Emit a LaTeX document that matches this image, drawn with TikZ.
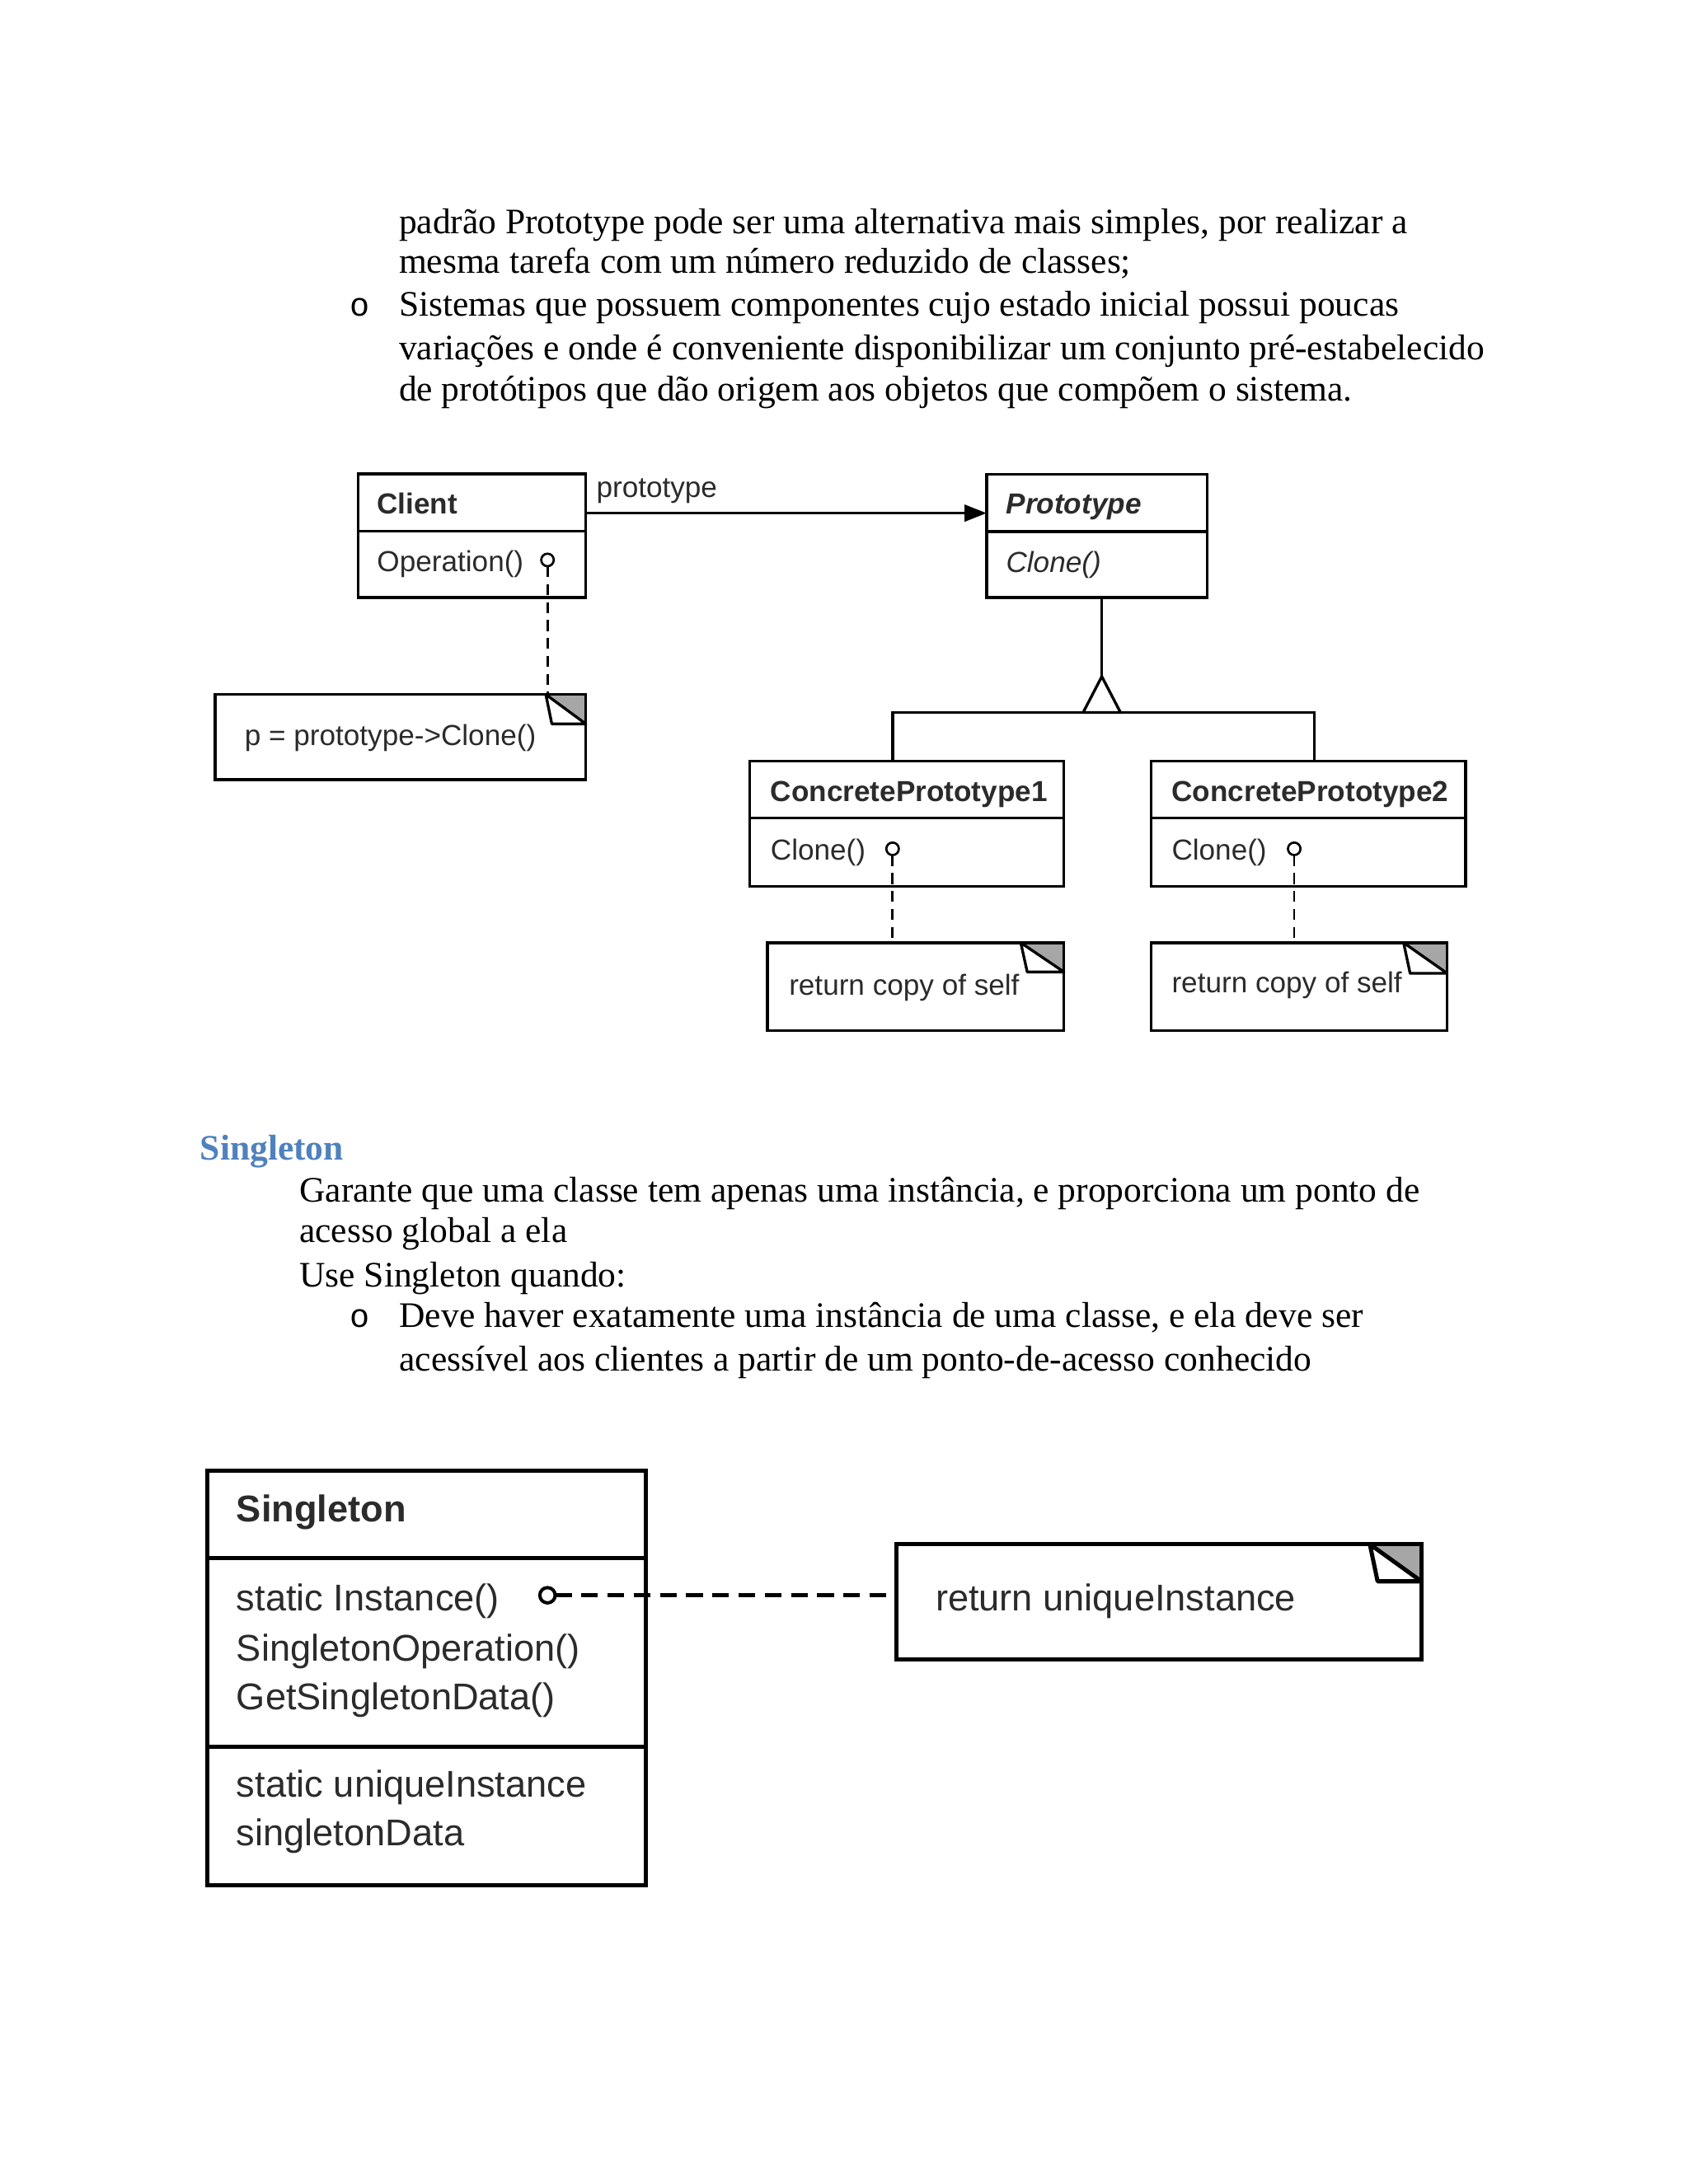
\documentclass[tikz,border=0pt]{standalone}
\usepackage{fontspec}
\setmainfont{Liberation Serif}
\newfontfamily\diafont{Liberation Sans}
\newfontfamily\bulfont{Liberation Mono}
\usetikzlibrary{arrows.meta,calc}
\definecolor{headblue}{HTML}{4F81BD}
\definecolor{diatext}{HTML}{2B2B2B}
\definecolor{foldgray}{HTML}{A6A6A6}
\tikzset{
 body/.style={anchor=base west, inner sep=0pt, font=\fontsize{13}{15}\selectfont},
 bulletmark/.style={anchor=base west, inner sep=0pt, font=\bulfont\fontsize{12}{14}\selectfont},
 headtxt/.style={anchor=base west, inner sep=0pt, font=\bfseries\fontsize{13}{15}\selectfont, text=headblue},
 cls/.style 2 args={draw, line width=1pt, inner sep=0pt, outer sep=0pt, anchor=north west, minimum width=#1*0.505pt, minimum height=#2*0.505pt},
 clsbig/.style 2 args={draw, line width=1.5pt, inner sep=0pt, outer sep=0pt, anchor=north west, minimum width=#1*0.505pt, minimum height=#2*0.505pt},
 lblone/.style={anchor=base west, inner sep=0pt, text=diatext, font=\diafont\fontsize{10.5}{12}\selectfont},
 lbltwo/.style={anchor=base west, inner sep=0pt, text=diatext, font=\diafont\fontsize{13.5}{15}\selectfont},
 lollyone/.style={circle, draw, fill=white, inner sep=0pt, outer sep=0pt, minimum size=9*0.505pt, line width=0.8pt},
 lollytwo/.style={circle, draw, fill=white, inner sep=0pt, outer sep=0pt, minimum size=11*0.505pt, line width=1.2pt},
 lineone/.style={line width=1pt},
 linetwo/.style={line width=1.5pt},
 dashone/.style={line width=0.8pt, dash pattern=on 4pt off 2.5pt},
 dashtwo/.style={line width=1.5pt, dash pattern=on 6pt off 3.5pt},
 assoc/.style={line width=1pt, -{Triangle[length=8pt,width=6pt]}},
}
\newcommand\foldcorner[4][1pt]{%
 \fill[foldgray] ($(#2.north east)+(-#3,0)$) -- (#2.north east) -- ($(#2.north east)+(0,#4)$) -- cycle;
 \draw[line width=#1, fill=white, line join=round] ($(#2.north east)+(-#3,0)$) -- ($(#2.north east)+({-0.85*#3},#4)$) -- ($(#2.north east)+(0,#4)$) -- cycle;
 \draw[line width=#1] (#2.north west) -- (#2.north east) -- (#2.south east);
}
\begin{document}
\begin{tikzpicture}[x=0.505pt,y=-0.505pt]
\useasboundingbox (0,0) rectangle (1212,1568);
\fill[white] (0,0) rectangle (1212,1568);

% ---------- top text ----------
\node[body] (t1) at (286,167.7) {padrão Prototype pode ser uma alternativa mais simples, por realizar a};
\node[body] (t2) at (286,196.1) {mesma tarefa com um número reduzido de classes;};
\node[bulletmark] (b1) at (250.5,227.1) {o};
\node[body] (t3) at (286,227.1) {Sistemas que possuem componentes cujo estado inicial possui poucas};
\node[body] (t4) at (286,258.1) {variações e onde é conveniente disponibilizar um conjunto pré-estabelecido};
\node[body] (t5) at (286,288.1) {de protótipos que dão origem aos objetos que compõem o sistema.};

% ---------- Prototype diagram ----------
% Client
\node[cls={163.4}{88.8}] (client) at (257.1,340.2) {};
\draw[lineone] (client.west |- 0,381.2) -- (client.east |- 0,381.2);
\node[lblone, font=\diafont\bfseries\fontsize{10.5}{12}\selectfont] (clientname) at (270.3,369.2) {Client};
\node[lblone] (clientop) at (270.3,410.6) {Operation()};
\node[lollyone] (lc) at (393,402) {};

% note client
\node[cls={266}{61.1}] (note0) at (154.5,498.6) {};
\foldcorner{note0}{28.7}{21.1}
\node[lblone] (note0t) at (175.2,535.4) {p = prototype->Clone()};
\draw[dashone] (lc.south) -- (lc |- note0.north);

% Prototype
\node[cls={158.2}{88.5}] (proto) at (708.2,340.4) {};
\draw[lineone] (proto.west |- 0,381.6) -- (proto.east |- 0,381.6);
\node[lblone, font=\diafont\bfseries\itshape\fontsize{10.5}{12}\selectfont] (protoname) at (721.8,368.9) {Prototype};
\node[lblone, font=\diafont\itshape\fontsize{10.5}{12}\selectfont] (protoop) at (721.8,411) {Clone()};

% association
\node[lblone] (plabel) at (427.7,357) {prototype};
\coordinate (ay) at (0,368.4);
\draw[assoc] (client.east |- ay) -- (proto.west |- ay);

% ConcretePrototype1
\node[cls={225.7}{90.2}] (cp1) at (538,546.3) {};
\draw[lineone] (cp1.west |- 0,587.1) -- (cp1.east |- 0,587.1);
\node[lblone, font=\diafont\bfseries\fontsize{10.5}{12}\selectfont] (cp1name) at (552.8,575.4) {ConcretePrototype1};
\node[lblone] (cp1op) at (552.8,617.5) {Clone()};
\node[lollyone] (l1) at (640.7,609.4) {};

% ConcretePrototype2
\node[cls={225.6}{90.2}] (cp2) at (826.4,546.3) {};
\draw[lineone] (cp2.west |- 0,587.1) -- (cp2.east |- 0,587.1);
\node[lblone, font=\diafont\bfseries\fontsize{10.5}{12}\selectfont] (cp2name) at (840.7,575.4) {ConcretePrototype2};
\node[lblone] (cp2op) at (840.7,617.5) {Clone()};
\node[lollyone] (l2) at (929,609.4) {};

% inheritance
\coordinate (apex) at (790.9,485.7);
\coordinate (gl) at (640.7,511.5);
\coordinate (gr) at (943.3,511.5);
\coordinate (tl) at (777.5,511.5);
\coordinate (tr) at (804.3,511.5);
\draw[lineone] (proto.south -| apex) -- (apex);
\draw[lineone] (gl |- cp1.north) -- (gl) -- (gr) -- (gr |- cp2.north);
\draw[lineone, fill=white, line join=miter] (apex) -- (tl) -- (tr) -- cycle;

% notes for concrete prototypes
\node[cls={212.8}{63}] (note1) at (550.9,676.8) {};
\foldcorner{note1}{31}{21}
\node[lblone] (note1t) at (566,714.5) {return copy of self};
\draw[dashone] (l1.south) -- (l1 |- note1.north);

\node[cls={212.4}{63}] (note2) at (826.4,676.8) {};
\foldcorner{note2}{31.3}{22}
\node[lblone] (note2t) at (840.7,712.6) {return copy of self};
\draw[dashone] (l2.south) -- (l2 |- note2.north);

% ---------- Singleton text ----------
\node[headtxt] (sh) at (143.3,832.7) {Singleton};
\node[body] (s1) at (214.6,862.9) {Garante que uma classe tem apenas uma instância, e proporciona um ponto de};
\node[body] (s2) at (214.6,892.1) {acesso global a ela};
\node[body] (s3) at (214.6,924) {Use Singleton quando:};
\node[bulletmark] (b2) at (251,953) {o};
\node[body] (s4) at (286.3,953) {Deve haver exatamente uma instância de uma classe, e ela deve ser};
\node[body] (s5) at (286.3,984.5) {acessível aos clientes a partir de um ponto-de-acesso conhecido};

% ---------- Singleton diagram ----------
\node[clsbig={314.6}{297.6}] (single) at (149,1055.7) {};
\draw[linetwo] (single.west |- 0,1118.3) -- (single.east |- 0,1118.3);
\draw[linetwo] (single.west |- 0,1253.8) -- (single.east |- 0,1253.8);
\node[lbltwo, font=\diafont\bfseries\fontsize{13.5}{15}\selectfont] (sname) at (169.4,1092.8) {Singleton};
\node[lbltwo] (sm1) at (169.4,1156.5) {static Instance()};
\node[lbltwo] (sm2) at (169.4,1192.6) {SingletonOperation()};
\node[lbltwo] (sm3) at (169.4,1227.6) {GetSingletonData()};
\node[lbltwo] (sa1) at (169.4,1290.3) {static uniqueInstance};
\node[lbltwo] (sa2) at (169.4,1325.3) {singletonData};
\node[lollytwo] (ls) at (393,1145.3) {};

\node[clsbig={376.6}{82.8}] (note3) at (643.7,1108.7) {};
\foldcorner[1.5pt]{note3}{37}{26.6}
\node[lbltwo] (note3t) at (671.2,1156.5) {return uniqueInstance};
\draw[dashtwo] (ls.east) -- (ls -| note3.west);
\end{tikzpicture}
\end{document}
